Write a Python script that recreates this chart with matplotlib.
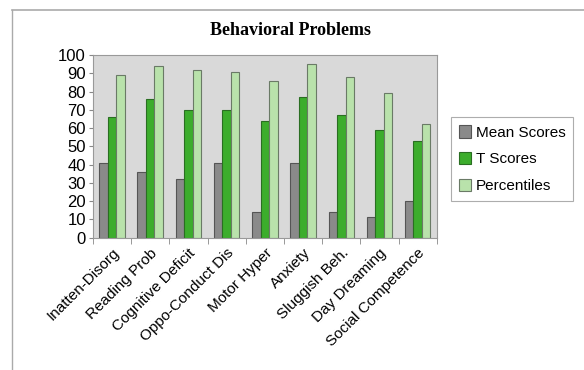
import numpy as np
import matplotlib.pyplot as plt
from matplotlib.lines import Line2D

plt.rcParams['font.family'] = 'Liberation Sans'

categories = ['Inatten-Disorg', 'Reading Prob', 'Cognitive Deficit', 'Oppo-Conduct Dis',
              'Motor Hyper', 'Anxiety', 'Sluggish Beh.', 'Day Dreaming', 'Social Competence']
mean_scores = [41, 36, 32, 41, 14, 41, 14, 11, 20]
t_scores = [66, 76, 70, 70, 64, 77, 67, 59, 53]
percentiles = [89, 94, 92, 91, 86, 95, 88, 79, 62]

fig = plt.figure(figsize=(5.84, 3.70), dpi=100)
ax = fig.add_axes([0.159, 0.358, 0.589, 0.493])
ax.set_facecolor('#d9d9d9')

x = np.arange(len(categories))
w = 1 / 4.5
ax.bar(x - w, mean_scores, w, color='#8a8a8a', edgecolor='#555555', linewidth=0.8, label='Mean Scores')
ax.bar(x, t_scores, w, color='#3cad2c', edgecolor='#2a6e22', linewidth=0.8, label='T Scores')
ax.bar(x + w, percentiles, w, color='#b9e2ab', edgecolor='#6a7a66', linewidth=0.8, label='Percentiles')

ax.set_xlim(-0.5, len(categories) - 0.5)
ax.set_ylim(0, 100)
ax.set_yticks(range(0, 101, 10))
ax.tick_params(axis='y', labelsize=12, length=3, color='#888888', pad=2)
ax.set_xticks(x)
ax.set_xticklabels(categories, rotation=45, ha='right', rotation_mode='anchor', fontsize=11)
ax.tick_params(axis='x', length=0, pad=6)
ax.set_xticks(np.arange(-0.5, len(categories)), minor=True)
ax.tick_params(axis='x', which='minor', length=4, color='#888888')
for s in ax.spines.values():
    s.set_color('#999999')
    s.set_linewidth(0.8)

fig.text(0.497, 0.918, 'Behavioral Problems', ha='center', va='center',
         fontsize=13, fontweight='bold', family='Liberation Serif')

leg = ax.legend(loc='center left', bbox_to_anchor=(1.02, 0.43), fontsize=11, frameon=True,
                fancybox=False, handlelength=0.8, handleheight=0.9, handletextpad=0.3,
                labelspacing=0.8, borderpad=0.5)
leg.get_frame().set_edgecolor('#999999')
leg.get_frame().set_linewidth(0.8)

# outer chart frame
fig.add_artist(Line2D([12 / 584, 1], [1 - 10 / 370, 1 - 10 / 370], color='#aaaaaa', lw=1.2))
fig.add_artist(Line2D([12 / 584, 12 / 584], [0, 1 - 10 / 370], color='#aaaaaa', lw=1.0))

fig.savefig('out.png', dpi=100)
